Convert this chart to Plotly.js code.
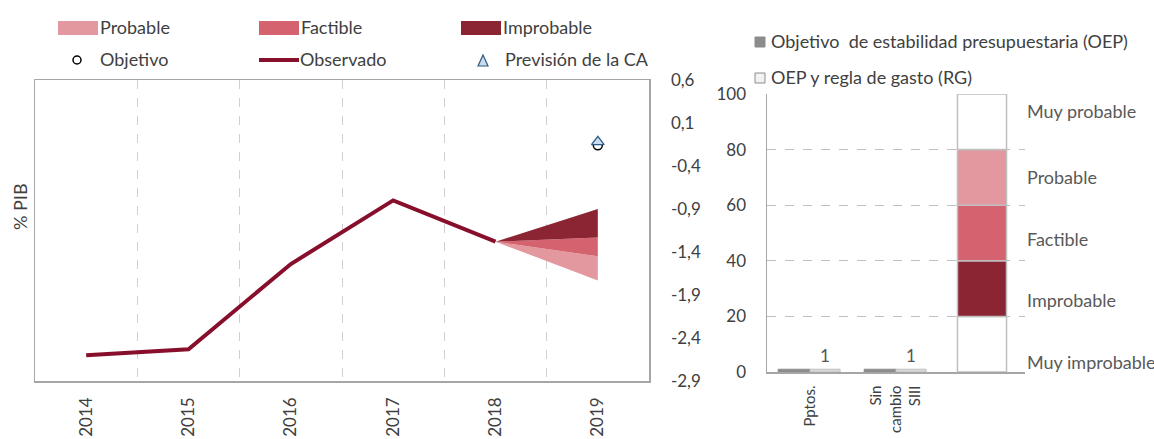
<!DOCTYPE html>
<html><head><meta charset="utf-8">
<script src="https://cdn.plot.ly/plotly-3.0.1.min.js"></script>
<style>html,body{margin:0;padding:0;background:#fff}#chart{width:1154px;height:439px}</style>
</head><body><div id="chart"></div>
<script>
// ---------- Left chart data ----------
const years = [2014, 2015, 2016, 2017, 2018, 2019];
const yearLabels = ['2014', '2015', '2016', '2017', '2018', '2019'];
const observadoYears = [2014, 2015, 2016, 2017, 2018];
const observado = [-2.60, -2.53, -1.54, -0.80, -1.28];
const fanYears = [2018, 2019];
const fanImprobable = [-0.90, -1.23];   // top, bottom at 2019
const fanFactible = [-1.23, -1.45];
const fanProbable = [-1.45, -1.73];
const targetYear = [2019];
const objetivo = [-0.16];
const prevision = [-0.12];
const leftTicks = [-2.9, -2.4, -1.9, -1.4, -0.9, -0.4, 0.1, 0.6];
const leftTickText = ['-2,9', '-2,4', '-1,9', '-1,4', '-0,9', '-0,4', '0,1', '0,6'];

// ---------- Right chart data ----------
const barPositions = [0, 1, 2];
const barLabels = ['Pptos.', 'Sin<br>cambio<br>SIII', ''];
const oep = [1, 1];
const rg = [1, 1];
const rgLabels = ['1', '1'];
const bandNames = ['Muy improbable', 'Improbable', 'Factible', 'Probable', 'Muy probable'];
const bandValues = [20, 20, 20, 20, 20];
const bandLabelY = [3.6, 25.9, 47.8, 70.1, 93.9];
const rightTicks = [0, 20, 40, 60, 80, 100];

const C_PROB = '#E3979F', C_FACT = '#D5626F', C_IMPR = '#8C2533', C_OBS = '#880F2B';
const bandColors = ['#FFFFFF', C_IMPR, C_FACT, C_PROB, '#FFFFFF'];
const FONT = 'Lato, "Open Sans", sans-serif';
const W = 1154, H = 439;
const px = v => v / W, py = v => 1 - v / H;

const traces = [];
function fan(vals, color, name) {
  const start = observado[observadoYears.indexOf(fanYears[0])];
  traces.push({
    x: [fanYears[0], fanYears[1], fanYears[1], fanYears[0]],
    y: [start, vals[0], vals[1], start],
    fill: 'toself', fillcolor: color, mode: 'lines', line: {width: 0, color: color},
    name: name, showlegend: false, hoverinfo: 'skip', xaxis: 'x', yaxis: 'y'
  });
}
fan(fanProbable, C_PROB, 'Probable');
fan(fanFactible, C_FACT, 'Factible');
fan(fanImprobable, C_IMPR, 'Improbable');
traces.push({x: observadoYears, y: observado, mode: 'lines', line: {color: C_OBS, width: 4},
  name: 'Observado', showlegend: false, xaxis: 'x', yaxis: 'y'});
traces.push({x: targetYear, y: objetivo, mode: 'markers', name: 'Objetivo', showlegend: false,
  marker: {symbol: 'circle-open', size: 9, color: '#000', line: {width: 1.5}}, xaxis: 'x', yaxis: 'y'});
traces.push({x: targetYear, y: prevision, mode: 'markers', name: 'Previsión de la CA', showlegend: false,
  marker: {symbol: 'triangle-up', size: 11, color: '#C9DCEE', line: {color: '#2F5A85', width: 1.3}}, xaxis: 'x', yaxis: 'y'});

// right chart
traces.push({type: 'bar', x: barPositions.slice(0, 2), y: oep, width: 0.37, offset: -0.37,
  marker: {color: '#8C8C8C', line: {color: '#8C8C8C', width: 1}}, name: 'OEP', showlegend: false,
  xaxis: 'x2', yaxis: 'y2'});
traces.push({type: 'bar', x: barPositions.slice(0, 2), y: rg, width: 0.35, offset: 0,
  marker: {color: '#D9D9D9', line: {color: '#BFBFBF', width: 1}}, name: 'RG', showlegend: false,
  text: rgLabels, textposition: 'outside', cliponaxis: false,
  textfont: {family: FONT, size: 17, color: '#555'}, xaxis: 'x2', yaxis: 'y2'});
let cum = 0;
bandValues.forEach((v, i) => {
  traces.push({type: 'bar', x: [barPositions[2]], y: [v], base: [cum], width: 0.57,
    marker: {color: bandColors[i], line: {color: '#BFBFBF', width: 1.5}},
    name: bandNames[i], showlegend: false, xaxis: 'x2', yaxis: 'y2'});
  cum += v;
});

const annotations = [];
const shapes = [];
const LF = {family: FONT, size: 18, color: '#404040'};
// Custom legend (left)
const legBoxes = [[58, 'Probable', C_PROB], [259, 'Factible', C_FACT], [461, 'Improbable', C_IMPR]];
legBoxes.forEach(([x0, t, c]) => {
  shapes.push({type: 'rect', xref: 'paper', yref: 'paper', x0: px(x0), x1: px(x0 + 40), y0: py(35), y1: py(21),
    fillcolor: c, line: {width: 0}});
  annotations.push({xref: 'paper', yref: 'paper', x: px(x0 + 40), y: py(27), text: t, showarrow: false,
    xanchor: 'left', yanchor: 'middle', font: LF});
});
shapes.push({type: 'circle', xref: 'paper', yref: 'paper', x0: px(73), x1: px(81), y0: py(64), y1: py(56),
  line: {color: '#000', width: 1.5}});
annotations.push({xref: 'paper', yref: 'paper', x: px(98), y: py(59), text: 'Objetivo', showarrow: false,
  xanchor: 'left', yanchor: 'middle', font: LF});
shapes.push({type: 'line', xref: 'paper', yref: 'paper', x0: px(259), x1: px(299), y0: py(60), y1: py(60),
  line: {color: C_OBS, width: 4}});
annotations.push({xref: 'paper', yref: 'paper', x: px(298), y: py(59), text: 'Observado', showarrow: false,
  xanchor: 'left', yanchor: 'middle', font: LF});
shapes.push({type: 'path', xref: 'paper', yref: 'paper',
  path: `M ${px(478)} ${py(66)} L ${px(488)} ${py(66)} L ${px(483)} ${py(55)} Z`,
  fillcolor: '#C9DCEE', line: {color: '#2F5A85', width: 1.2}});
annotations.push({xref: 'paper', yref: 'paper', x: px(503), y: py(59), text: 'Previsión de la CA', showarrow: false,
  xanchor: 'left', yanchor: 'middle', font: LF});
// y title left
annotations.push({xref: 'paper', yref: 'paper', x: px(20), y: py(207), text: '% PIB', showarrow: false,
  textangle: -90, xanchor: 'center', yanchor: 'middle', font: LF});

// Right legend
shapes.push({type: 'rect', xref: 'paper', yref: 'paper', x0: px(755), x1: px(765), y0: py(47), y1: py(37),
  fillcolor: '#8C8C8C', line: {color: '#8C8C8C', width: 1}});
annotations.push({xref: 'paper', yref: 'paper', x: px(769), y: py(41), text: 'Objetivo  de estabilidad presupuestaria (OEP)',
  showarrow: false, xanchor: 'left', yanchor: 'middle', font: LF});
shapes.push({type: 'rect', xref: 'paper', yref: 'paper', x0: px(755), x1: px(765), y0: py(83), y1: py(73),
  fillcolor: '#F2F2F2', line: {color: '#8C8C8C', width: 1}});
annotations.push({xref: 'paper', yref: 'paper', x: px(769), y: py(77), text: 'OEP y regla de gasto (RG)',
  showarrow: false, xanchor: 'left', yanchor: 'middle', font: LF});
// band labels
bandNames.forEach((n, i) => {
  annotations.push({xref: 'paper', yref: 'y2', x: px(1025), y: bandLabelY[i], text: n, showarrow: false,
    xanchor: 'left', yanchor: 'middle', font: {family: FONT, size: 18, color: '#595959'}});
});

const layout = {
  width: W, height: H, margin: {l: 0, r: 0, t: 0, b: 0},
  paper_bgcolor: '#fff', plot_bgcolor: '#fff', showlegend: false,
  font: {family: FONT, size: 16, color: '#404040'},
  barmode: 'overlay',
  xaxis: {domain: [px(35), px(649)], range: [years[0] - 0.5, years[years.length - 1] + 0.5],
    tickvals: years, ticktext: yearLabels, tickangle: -90, showgrid: false, zeroline: false,
    showline: true, mirror: true, linecolor: '#A6A6A6', linewidth: 1.5, ticks: '', ticklabelstandoff: 8,
    tickfont: {family: FONT, size: 17, color: '#404040'},
    minor: {tickvals: years.slice(0, -1).map(y => y + 0.5), showgrid: true, gridcolor: '#D0D0D0', griddash: 'dash', gridwidth: 1, ticks: ''},
    anchor: 'y', fixedrange: true},
  yaxis: {domain: [py(381), py(80)], range: [leftTicks[0], leftTicks[leftTicks.length - 1]],
    tickvals: leftTicks, ticktext: leftTickText, side: 'right', showgrid: false, zeroline: false,
    showline: true, mirror: true, linecolor: '#A6A6A6', linewidth: 1.5, ticks: '', ticklabelstandoff: 17,
    tickfont: {family: FONT, size: 17, color: '#404040'}, anchor: 'x', fixedrange: true},
  xaxis2: {domain: [px(767), px(1025)], range: [-0.5, 2.5], tickvals: barPositions, ticktext: barLabels,
    tickangle: -90, showgrid: false, zeroline: false, showline: true, linecolor: '#A6A6A6', linewidth: 1.5,
    ticks: '', ticklabelstandoff: 6, tickfont: {family: FONT, size: 15, color: '#404040'}, anchor: 'y2', fixedrange: true},
  yaxis2: {domain: [py(372), py(94)], range: [0, 100], tickvals: rightTicks, showgrid: true,
    gridcolor: '#BFBFBF', griddash: 'dash', gridwidth: 1, zeroline: false, showline: true,
    linecolor: '#A6A6A6', linewidth: 1.5, ticks: '', ticklabelstandoff: 16,
    tickfont: {family: FONT, size: 17, color: '#404040'}, anchor: 'x2', fixedrange: true},
  annotations: annotations, shapes: shapes
};
Plotly.newPlot('chart', traces, layout, {displayModeBar: false, staticPlot: true});
</script>
</body></html>
